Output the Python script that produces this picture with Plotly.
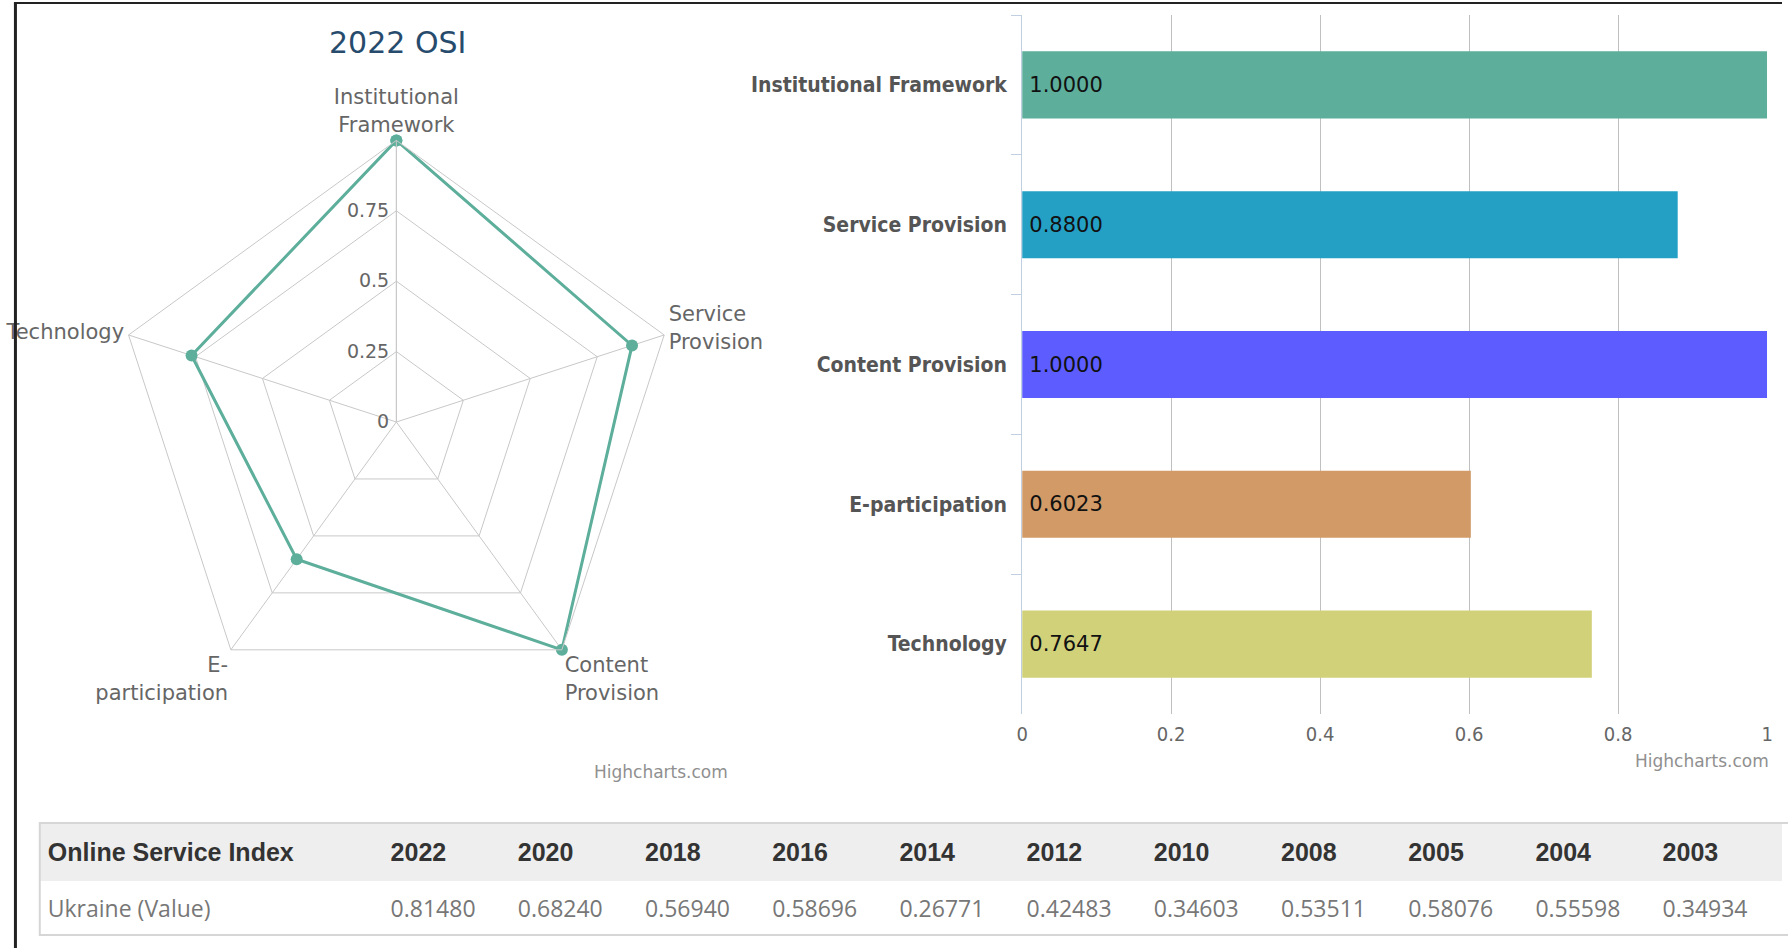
import plotly.graph_objects as go

# ---- data ----
categories = ["Institutional Framework", "Service Provision", "Content Provision",
              "E-participation", "Technology"]
radar_labels = ["Institutional<br>Framework", "Service<br>Provision", "Content<br>Provision",
                "E-<br>participation", "Technology"]
values = [1.0000, 0.8800, 1.0000, 0.6023, 0.7647]
bar_colors = ["#5dae9b", "#24a0c5", "#5c5cff", "#d19a66", "#d1d17a"]
radial_ticks = [0, 0.25, 0.5, 0.75]
radial_tick_text = ["0", "0.25", "0.5", "0.75"]
bar_ticks = [0, 0.2, 0.4, 0.6, 0.8, 1]

table_title = "Online Service Index"
years = ["2022", "2020", "2018", "2016", "2014", "2012", "2010", "2008", "2005", "2004", "2003"]
row_label = "Ukraine (Value)"
osi_values = ["0.81480", "0.68240", "0.56940", "0.58696", "0.26771", "0.42483",
              "0.34603", "0.53511", "0.58076", "0.55598", "0.34934"]

W, H = 1788, 948
def px(x):
    return x / W
def py(y):
    return (H - y) / H

fig = go.Figure()

# ---- radar ----
fig.add_trace(go.Scatterpolar(
    r=values + values[:1],
    theta=radar_labels + radar_labels[:1],
    mode="lines+markers",
    line=dict(color="#5dae9b", width=3),
    marker=dict(color="#5dae9b", size=12),
    subplot="polar",
    hoverinfo="skip",
))

cx, cy, R = 393, 422, 283.5
fig.update_layout(polar=dict(
    domain=dict(x=[px(cx - R), px(cx + R)], y=[py(cy + R), py(cy - R)]),
    gridshape="linear",
    bgcolor="white",
    radialaxis=dict(range=[0, 1], tickvals=radial_ticks, ticktext=radial_tick_text,
                    angle=90, tickangle=90, side="counterclockwise",
                    showline=True, linecolor="#c8c8c8", gridcolor="#c8c8c8", ticks="",
                    tickfont=dict(size=19, color="#666666", family="DejaVu Sans")),
    angularaxis=dict(direction="clockwise", rotation=90, categoryarray=radar_labels,
                     gridcolor="#c8c8c8", linecolor="#c8c8c8", showline=True, ticks="",
                     tickfont=dict(size=21, color="#666666", family="DejaVu Sans")),
))

# ---- bar ----
fig.add_trace(go.Bar(
    x=values, y=categories, orientation="h",
    marker=dict(color=bar_colors, line=dict(width=0)),
    texttemplate="\u2009%{x:.4f}", textposition="inside", insidetextanchor="start",
    textfont=dict(color="#111111", size=21, family="DejaVu Sans"),
    xaxis="x", yaxis="y", hoverinfo="skip", width=0.48,
))
fig.update_layout(
    xaxis=dict(domain=[px(1023), px(1773)], range=[0, 1], tickvals=bar_ticks,
               showgrid=True, gridcolor="#c0c0c0", zeroline=False, showline=False,
               ticks="", ticklabelstandoff=6, anchor="y",
               tickfont=dict(size=20, color="#666666", family="DejaVu Sans Condensed, DejaVu Sans")),
    yaxis=dict(domain=[py(714), py(15)], categoryorder="array", categoryarray=categories,
               autorange="reversed", showline=True, linecolor="#c0d0e0", linewidth=1,
               ticks="outside", tickson="boundaries", ticklen=10, tickcolor="#c0d0e0",
               ticklabelstandoff=10, showgrid=False, anchor="x",
               tickfont=dict(size=21, color="#555555",
                             family="DejaVu Sans Condensed, DejaVu Sans", weight="bold")),
)

# ---- table ----
colw = [345] + [128] * len(years)
tx = [px(34), 1]
# row backgrounds
fig.add_trace(go.Table(
    domain=dict(x=tx, y=[py(935), py(823)]),
    columnwidth=colw,
    header=dict(values=[""] * (len(years) + 1), fill_color="#eeeeee", line_color="#eeeeee",
                height=57),
    cells=dict(values=[[""]] * (len(years) + 1), fill_color="white", line_color="white",
               height=55),
))
# header row text
fig.add_trace(go.Table(
    domain=dict(x=tx, y=[py(880), py(830)]),
    columnwidth=colw,
    header=dict(values=["<b>" + table_title + "</b>"] + ["<b>" + y + "</b>" for y in years],
                fill_color="rgba(0,0,0,0)", line_color="rgba(0,0,0,0)", align="left", height=50,
                font=dict(size=25, color="#333333", family="Liberation Sans")),
))
# value row text
fig.add_trace(go.Table(
    domain=dict(x=tx, y=[py(935), py(891.5)]),
    columnwidth=colw,
    header=dict(values=[row_label] + osi_values,
                fill_color="rgba(0,0,0,0)", line_color="rgba(0,0,0,0)", align="left", height=43,
                font=dict(size=23, color="#777777", family="Open Sans")),
))

# ---- decorations ----
fig.add_shape(type="rect", xref="paper", yref="paper",
              x0=px(1768), x1=1, y0=py(880), y1=py(824),
              line=dict(width=0), fillcolor="#eeeeee", layer="above")
fig.add_shape(type="rect", xref="paper", yref="paper",
              x0=px(34), x1=px(1800), y0=py(935), y1=py(823),
              line=dict(color="#d6d6d6", width=2), layer="above")
fig.add_shape(type="line", xref="paper", yref="paper", x0=px(9.5), x1=px(9.5), y0=0, y1=py(3),
              line=dict(color="#222222", width=3))
fig.add_shape(type="line", xref="paper", yref="paper", x0=px(8), x1=1, y0=py(3), y1=py(3),
              line=dict(color="#222222", width=2))

fig.add_annotation(text="2022 OSI", x=px(394), y=py(43), xref="paper", yref="paper",
                   xanchor="center", yanchor="middle", showarrow=False,
                   font=dict(size=30, color="#274b6d", family="DejaVu Sans"))
fig.add_annotation(text="Highcharts.com", x=px(729), y=py(772), xref="paper", yref="paper",
                   xanchor="right", yanchor="middle", showarrow=False,
                   font=dict(size=17, color="#909090", family="DejaVu Sans"))
fig.add_annotation(text="Highcharts.com", x=px(1777), y=py(761), xref="paper", yref="paper",
                   xanchor="right", yanchor="middle", showarrow=False,
                   font=dict(size=17, color="#909090", family="DejaVu Sans"))

fig.update_layout(width=W, height=H, margin=dict(l=0, r=0, t=0, b=0),
                  paper_bgcolor="white", plot_bgcolor="white", showlegend=False,
                  font=dict(family="DejaVu Sans", color="#666666"))

fig.write_html("out.html", config={"displayModeBar": False},
               post_script="document.body.style.margin='0px';")
